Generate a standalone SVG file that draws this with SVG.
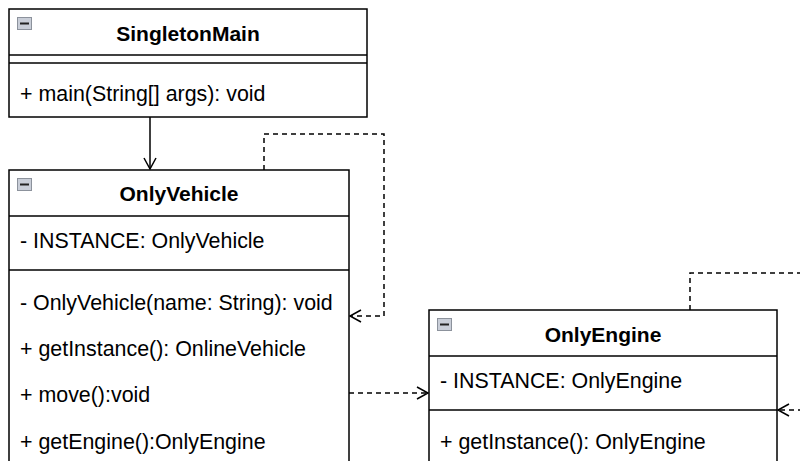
<svg xmlns="http://www.w3.org/2000/svg" width="800" height="461" viewBox="0 0 800 461">
  <defs>
    <style>
      .box { fill: #ffffff; stroke: #000000; stroke-width: 1.5; }
      .sep { stroke: #000000; stroke-width: 1.5; fill: none; }
      .title { font-family: "Liberation Sans", Arial, Helvetica, sans-serif; font-size: 21px; font-weight: bold; fill: #000000; text-anchor: middle; }
      .item { font-family: "Liberation Sans", Arial, Helvetica, sans-serif; font-size: 21.4px; fill: #000000; }
      .icon { fill: #c9ced8; stroke: #8c929c; stroke-width: 1; }
      .icondash { stroke: #222222; stroke-width: 2; }
      .conn { fill: none; stroke: #000000; stroke-width: 1.5; }
      .dashed { stroke-dasharray: 5 4; }
    </style>
    <marker id="open" markerWidth="14" markerHeight="14" refX="12" refY="6" orient="auto" markerUnits="userSpaceOnUse" viewBox="0 0 14 12">
      <path d="M1,0 L12,6 L1,12" fill="none" stroke="#000000" stroke-width="1.5"/>
    </marker>
  </defs>

  <g id="connectors">
    <path class="conn" d="M150,117 L150,169" marker-end="url(#open)"/>
    <path class="conn dashed" d="M264,170 L264,134 L384,134 L384,316 L350,316" marker-end="url(#open)"/>
    <path class="conn dashed" d="M349,393 L428,393" marker-end="url(#open)"/>
    <path class="conn dashed" d="M690,310 L690,273 L812,273"/>
    <path class="conn dashed" d="M812,410 L778,410" marker-end="url(#open)"/>
  </g>

  <g id="SingletonMain">
    <rect class="box" x="9" y="9" width="358" height="108"/>
    <line class="sep" x1="9" y1="55" x2="367" y2="55"/>
    <line class="sep" x1="9" y1="63" x2="367" y2="63"/>
    <rect class="icon" x="17.5" y="17.5" width="14" height="12"/>
    <line class="icondash" x1="20" y1="23.5" x2="29" y2="23.5"/>
    <text class="title" x="188" y="41">SingletonMain</text>
    <text class="item" x="20" y="101">+ main(String[] args): void</text>
  </g>

  <g id="OnlyVehicle">
    <rect class="box" x="9" y="170" width="340" height="310"/>
    <line class="sep" x1="9" y1="216" x2="349" y2="216"/>
    <line class="sep" x1="9" y1="270" x2="349" y2="270"/>
    <rect class="icon" x="17.5" y="178.5" width="14" height="12"/>
    <line class="icondash" x1="20" y1="184.5" x2="29" y2="184.5"/>
    <text class="title" x="179" y="201">OnlyVehicle</text>
    <text class="item" x="20" y="248">- INSTANCE: OnlyVehicle</text>
    <text class="item" x="20" y="310">- OnlyVehicle(name: String): void</text>
    <text class="item" x="20" y="356">+ getInstance(): OnlineVehicle</text>
    <text class="item" x="20" y="402">+ move():void</text>
    <text class="item" x="20" y="449">+ getEngine():OnlyEngine</text>
  </g>

  <g id="OnlyEngine">
    <rect class="box" x="429" y="310" width="348" height="170"/>
    <line class="sep" x1="429" y1="356" x2="777" y2="356"/>
    <line class="sep" x1="429" y1="410" x2="777" y2="410"/>
    <rect class="icon" x="437.5" y="318.5" width="14" height="12"/>
    <line class="icondash" x1="440" y1="324.5" x2="449" y2="324.5"/>
    <text class="title" x="603" y="342">OnlyEngine</text>
    <text class="item" x="440" y="388">- INSTANCE: OnlyEngine</text>
    <text class="item" x="440" y="449">+ getInstance(): OnlyEngine</text>
  </g>
</svg>
